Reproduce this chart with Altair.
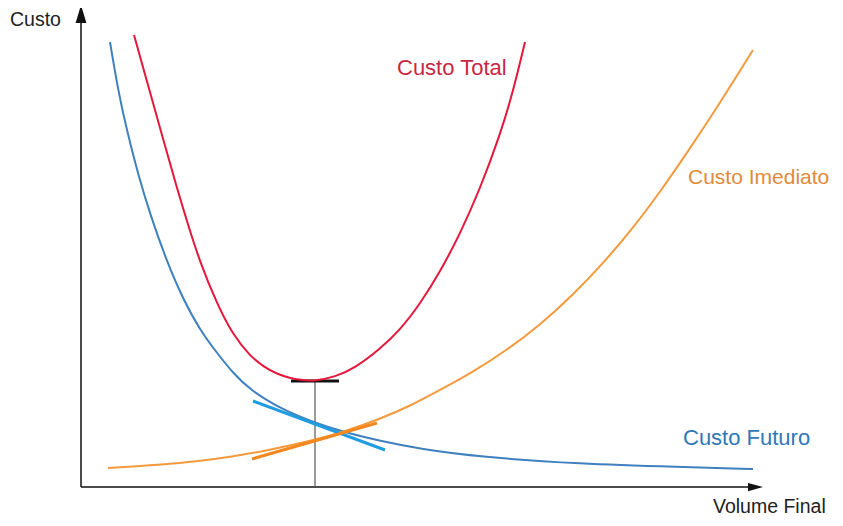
import altair as alt
import pandas as pd

# ---- curve values (Volume Final, Custo) ----
futuro_x = [29, 37, 46, 57, 69, 86, 102, 119, 136, 152, 169, 202, 232, 262, 299, 339, 399, 499, 599, 672]
futuro_y = [445, 397, 356, 313, 273, 225, 188, 157, 134, 114, 97, 77, 65, 55, 46, 38, 30, 23, 20, 18]

total_x = [53, 67, 81, 95, 108, 119, 136, 152, 169, 183, 196, 209, 219, 234, 254, 274, 299, 319, 339, 359, 379, 399, 419, 432, 444]
total_y = [452, 402, 352, 302, 259, 225, 183, 152, 131, 120, 113, 109, 107, 106, 110, 119, 138, 157, 183, 215, 253, 298, 352, 395, 445]

imediato_x = [27, 79, 119, 149, 189, 234, 262, 299, 329, 359, 392, 426, 459, 492, 526, 552, 579, 606, 639, 672]
imediato_y = [19, 22, 26, 30, 37, 47, 55, 68, 81, 97, 115, 137, 162, 192, 228, 259, 295, 334, 384, 437]

# tangent segments at the optimum
tan_futuro_x = [172, 304]
tan_futuro_y = [86, 37]
tan_imediato_x = [171, 296]
tan_imediato_y = [28, 64]

# optimum
opt_x = 234
opt_y = 106
opt_half = 24

# axis extents
x_axis_end = 669
y_axis_end = 467

labels = ["Custo Total", "Custo Imediato", "Custo Futuro"]
label_x = [316, 607, 602]
label_y = [419, 309, 49]
label_size = [22, 21, 22]
label_colors = ["#c8283f", "#e08a3a", "#2f78b6"]

axis_titles = ["Custo", "Volume Final"]
axis_title_x = [-71, 632]
axis_title_y = [467, -20]

XDOM = [-73, 754]
YDOM = [-31, 479]
W, H = 827, 510

xs = alt.Scale(domain=XDOM, nice=False, zero=False)
ys = alt.Scale(domain=YDOM, nice=False, zero=False)


def line_df(name, color, xv, yv):
    return pd.DataFrame({"s": name, "c": color, "x": xv, "y": yv, "o": list(range(len(xv)))})


curves = pd.concat([
    line_df("futuro", "#3f80bf", futuro_x, futuro_y),
    line_df("total", "#e5173b", total_x, total_y),
    line_df("imediato", "#f49a3e", imediato_x, imediato_y),
])
tangents = pd.concat([
    line_df("tfuturo", "#1f9de0", tan_futuro_x, tan_futuro_y),
    line_df("timediato", "#f2881f", tan_imediato_x, tan_imediato_y),
])

X = lambda f: alt.X(f"{f}:Q", scale=xs, axis=None)
Y = lambda f: alt.Y(f"{f}:Q", scale=ys, axis=None)

curve_layer = alt.Chart(curves).mark_line(strokeWidth=2, interpolate="basis").encode(
    x=X("x"), y=Y("y"), order="o:Q", detail="s:N",
    color=alt.Color("c:N", scale=None),
)

tangent_layer = alt.Chart(tangents).mark_line(strokeWidth=3).encode(
    x=X("x"), y=Y("y"), order="o:Q", detail="s:N",
    color=alt.Color("c:N", scale=None),
)

rules_df = pd.DataFrame({
    "x": [0, 0, opt_x, opt_x - opt_half],
    "x2": [0, x_axis_end, opt_x, opt_x + opt_half],
    "y": [0, 0, 0, opt_y],
    "y2": [y_axis_end, 0, opt_y, opt_y],
    "c": ["#111111", "#111111", "#555555", "#111111"],
    "w": [1.5, 1.5, 1.2, 3],
})
rule_layer = alt.Chart(rules_df).mark_rule().encode(
    x=X("x"), x2="x2:Q", y=Y("y"), y2="y2:Q",
    color=alt.Color("c:N", scale=None),
    strokeWidth=alt.StrokeWidth("w:Q", scale=None),
)

arrow_up = alt.Chart(pd.DataFrame({"x": [0], "y": [473]})).mark_point(
    shape="M0,-1L0.6,1L-0.6,1Z", size=324, filled=True, color="#111111", opacity=1
).encode(x=X("x"), y=Y("y"))

arrow_right = alt.Chart(pd.DataFrame({"x": [674.5], "y": [0]})).mark_point(
    shape="M1,0L-1,0.55L-1,-0.55Z", size=225, filled=True, color="#111111", opacity=1
).encode(x=X("x"), y=Y("y"))

lab_df = pd.DataFrame({"t": labels, "x": label_x, "y": label_y, "c": label_colors, "s": label_size})
label_layer = alt.Chart(lab_df).mark_text(
    align="left", baseline="middle", font="Liberation Sans"
).encode(x=X("x"), y=Y("y"), text="t:N", color=alt.Color("c:N", scale=None),
         size=alt.Size("s:Q", scale=None))

ax_df = pd.DataFrame({"t": axis_titles, "x": axis_title_x, "y": axis_title_y})
axis_title_layer = alt.Chart(ax_df).mark_text(
    align="left", baseline="middle", fontSize=19.5, font="Liberation Sans", color="#222222"
).encode(x=X("x"), y=Y("y"), text="t:N")

chart = alt.layer(
    rule_layer, arrow_up, arrow_right, curve_layer, tangent_layer,
    label_layer, axis_title_layer
).properties(
    width=W, height=H, padding=0, autosize=alt.AutoSizeParams(type="none")
).configure_view(stroke=None)

chart.save("out.html", embed_options={"renderer": "svg", "actions": False})
